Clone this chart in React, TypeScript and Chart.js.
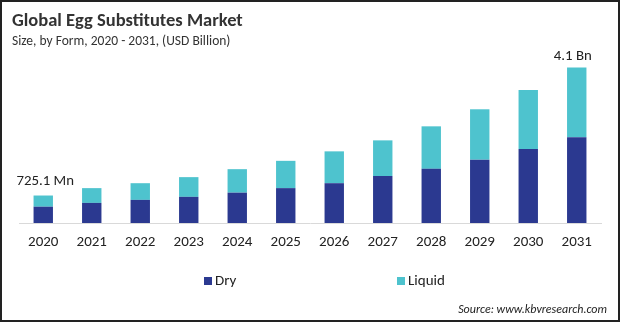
import React, { useEffect, useRef } from "react";
import { Chart, registerables } from "chart.js";

Chart.register(...registerables);

const categories = ["2020", "2021", "2022", "2023", "2024", "2025", "2026", "2027", "2028", "2029", "2030", "2031"];
const dryValues = [0.43, 0.53, 0.61, 0.69, 0.8, 0.92, 1.05, 1.24, 1.43, 1.67, 1.95, 2.26];
const liquidValues = [0.295, 0.39, 0.44, 0.52, 0.62, 0.72, 0.84, 0.94, 1.12, 1.33, 1.56, 1.84];
const seriesNames = ["Dry", "Liquid"];
const firstLabel = "725.1 Mn";
const lastLabel = "4.1 Bn";
const titleText = "Global Egg Substitutes Market";
const subtitleText = "Size, by Form, 2020 - 2031, (USD Billion)";
const sourceText = "Source: www.kbvresearch.com";

const FONT = "Calibri, Carlito, 'Open Sans', sans-serif";

const decorPlugin = {
  id: "decor",
  afterDraw(chart: any) {
    const ctx = chart.ctx;
    const w = chart.width;
    const h = chart.height;
    ctx.save();
    // title
    ctx.fillStyle = "#333333";
    ctx.textBaseline = "alphabetic";
    ctx.textAlign = "left";
    ctx.font = `bold 18.5px ${FONT}`;
    ctx.fillText(titleText, 12, 26);
    ctx.font = `13.5px ${FONT}`;
    ctx.fillStyle = "#333333";
    ctx.fillText(subtitleText, 12, 45);

    // value labels
    const meta = chart.getDatasetMeta(1);
    ctx.font = `14.8px ${FONT}`;
    ctx.fillStyle = "#222222";
    ctx.textAlign = "center";
    const b0 = meta.data[0];
    ctx.fillText(firstLabel, b0.x + 2, b0.y - 11);
    const bl = meta.data[meta.data.length - 1];
    ctx.fillText(lastLabel, bl.x - 4, bl.y - 8);

    // legend
    ctx.textAlign = "left";
    ctx.textBaseline = "middle";
    ctx.font = `15px ${FONT}`;
    const legendX = [204, 397];
    chart.data.datasets.forEach((ds: any, i: number) => {
      ctx.fillStyle = ds.backgroundColor;
      ctx.fillRect(legendX[i], 277, 8, 8);
      ctx.fillStyle = "#222222";
      ctx.fillText(ds.label, legendX[i] + 11, 281);
    });

    // source
    ctx.font = `italic 12px ${FONT}`;
    ctx.textAlign = "right";
    ctx.textBaseline = "alphabetic";
    ctx.fillStyle = "#222222";
    ctx.fillText(sourceText, 607, 313);

    // border
    ctx.strokeStyle = "#222222";
    ctx.lineWidth = 2;
    ctx.strokeRect(1, 1, w - 2, h - 2);
    ctx.restore();
  },
};

export default function App() {
  const ref = useRef<HTMLCanvasElement | null>(null);
  useEffect(() => {
    if (!ref.current) return;
    const chart = new Chart(ref.current, {
      type: "bar",
      data: {
        labels: categories,
        datasets: [
          { label: seriesNames[0], data: dryValues, backgroundColor: "#2B3990", categoryPercentage: 0.8, barPercentage: 0.5 },
          { label: seriesNames[1], data: liquidValues, backgroundColor: "#4EC3CE", categoryPercentage: 0.8, barPercentage: 0.5 },
        ],
      },
      options: {
        animation: false,
        responsive: false,
        maintainAspectRatio: false,
        layout: { padding: { top: 60, left: 19, right: 19, bottom: 61 } },
        plugins: { legend: { display: false }, tooltip: { enabled: false } },
        scales: {
          x: {
            stacked: true,
            grid: { display: false, drawTicks: false },
            border: { display: true, color: "#d9d9d9", width: 1 },
            ticks: { color: "#222222", font: { family: FONT, size: 15 }, padding: 10 },
          },
          y: {
            stacked: true,
            display: false,
            min: 0,
            max: 4.3,
          },
        },
      },
      plugins: [decorPlugin],
    });
    return () => chart.destroy();
  }, []);
  return (
    <div style={{ position: "absolute", left: 0, top: 0, width: 620, height: 322, background: "#fff" }}>
      <canvas ref={ref} width={620} height={322} style={{ display: "block" }} />
    </div>
  );
}
